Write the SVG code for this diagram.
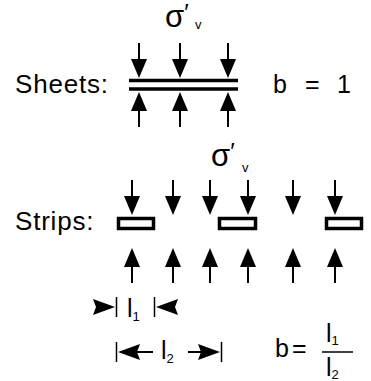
<svg xmlns="http://www.w3.org/2000/svg" width="371" height="381" viewBox="0 0 371 381">
<style>
text{font-family:"Liberation Sans",Arial,Helvetica,sans-serif;fill:#000}
.big{font-size:26px;letter-spacing:0.8px}
.med{font-size:25px}
.sig{font-size:31px}
.sub{font-size:13px;letter-spacing:0}
.shaft{stroke:#000;stroke-width:2;fill:none}
.bar{stroke:#000;stroke-width:3.5;fill:none}
.tick{stroke:#000;stroke-width:1.5;fill:none}
.head{fill:#000;stroke:none}
</style>
<defs>
<g id="dn"><line class="shaft" x1="0" y1="0" x2="0" y2="20"/><path class="head" d="M-8,16 L8,16 L0,35 Z"/></g>
<g id="up"><line class="shaft" x1="0" y1="0" x2="0" y2="-20"/><path class="head" d="M-8,-16 L8,-16 L0,-35 Z"/></g>
<path id="hr" class="head" d="M0,0 L-22,-8 L-19,0 L-22,8 Z"/>
<path id="hl" class="head" d="M0,0 L22,-8 L19,0 L22,8 Z"/>
</defs>

<g id="sheets">
<text class="big" x="15" y="93">Sheets:</text>
<text id="sigma1" x="165" y="27" class="sig">σ<tspan font-size="24" dy="-6">′</tspan><tspan class="sub" x="195" y="29">v</tspan></text>
<line class="bar" x1="129" y1="80.5" x2="238" y2="80.5"/>
<line class="bar" x1="129" y1="89" x2="238" y2="89"/>
<text class="med" x="273" y="93">b</text>
<text class="med" x="305" y="93">=</text>
<text class="med" x="337" y="93">1</text>
</g>

<g id="strips">
<text class="big" x="15" y="230">Strips:</text>
<text id="sigma2" x="211" y="166" class="sig">σ<tspan font-size="24" dy="-6">′</tspan><tspan class="sub" x="242" y="172">v</tspan></text>
<rect class="bar" x="118.5" y="218.5" width="35" height="10"/>
<rect class="bar" x="219.5" y="218.5" width="36" height="10"/>
<rect class="bar" x="326.5" y="218.5" width="35" height="10"/>
</g>

<g id="dimensions">
<line class="tick" x1="116.5" y1="297" x2="116.5" y2="317"/>
<line class="tick" x1="154.5" y1="297" x2="154.5" y2="317"/>
<use href="#hr" x="115" y="307"/>
<use href="#hl" x="156" y="307"/>
<text class="med" x="127" y="317">l<tspan class="sub" dy="4">1</tspan></text>
<line class="tick" x1="116.5" y1="342" x2="116.5" y2="362"/>
<line class="tick" x1="221.5" y1="342" x2="221.5" y2="362"/>
<use href="#hl" x="118" y="352"/>
<line class="shaft" x1="135" y1="352" x2="153" y2="352"/>
<use href="#hr" x="220" y="352"/>
<line class="shaft" x1="188" y1="352" x2="203" y2="352"/>
<text class="med" x="161" y="359">l<tspan class="sub" dy="4">2</tspan></text>
<text class="med" x="275" y="357">b</text>
<text class="med" x="292" y="357">=</text>
<line x1="322" y1="352" x2="353" y2="352" stroke="#000" stroke-width="1.5"/>
<text class="med" x="326" y="342">l<tspan class="sub" dy="3">1</tspan></text>
<text class="med" x="326" y="376">l<tspan class="sub" dy="3">2</tspan></text>
</g>

<g id="connectors">
<use href="#dn" x="139" y="43"/>
<use href="#dn" x="180" y="43"/>
<use href="#dn" x="228" y="43"/>
<use href="#up" x="139" y="127"/>
<use href="#up" x="180" y="127"/>
<use href="#up" x="228" y="127"/>
<use href="#dn" x="132" y="180"/>
<use href="#dn" x="173" y="180"/>
<use href="#dn" x="210" y="180"/>
<use href="#dn" x="248" y="180"/>
<use href="#dn" x="293" y="180"/>
<use href="#dn" x="335" y="180"/>
<use href="#up" x="132" y="283"/>
<use href="#up" x="173" y="283"/>
<use href="#up" x="210" y="283"/>
<use href="#up" x="248" y="283"/>
<use href="#up" x="293" y="283"/>
<use href="#up" x="335" y="283"/>
</g>
</svg>
